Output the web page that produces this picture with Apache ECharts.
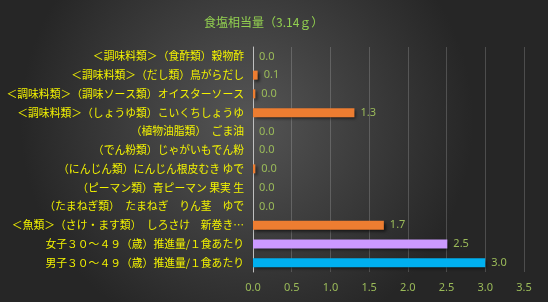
<!DOCTYPE html>
<html><head><meta charset="utf-8">
<script src="https://cdn.jsdelivr.net/npm/echarts@6/dist/echarts.min.js"></script>
<style>html,body{margin:0;padding:0;background:#2b2b2b}#c{width:548px;height:302px}</style>
</head><body><div id="c"></div>
<script>
const titleText = '食塩相当量（3.14ｇ）';
const categories = [
  '＜調味料類＞（食酢類）穀物酢',
  '＜調味料類＞（だし類）鳥がらだし',
  '＜調味料類＞（調味ソース類）オイスターソース',
  '＜調味料類＞（しょうゆ類）こいくちしょうゆ',
  '（植物油脂類）　ごま油',
  '（でん粉類）じゃがいもでん粉',
  '（にんじん類）にんじん根皮むき ゆで',
  '（ピーマン類）青ピーマン 果実 生',
  '（たまねぎ類）　たまねぎ　りん茎　ゆで',
  '＜魚類＞（さけ・ます類）　しろさけ　新巻き…',
  '女子３０～４９（歳）推進量/１食あたり',
  '男子３０～４９（歳）推進量/１食あたり'
];
const values = [0.0, 0.06, 0.03, 1.31, 0.0, 0.0, 0.03, 0.0, 0.0, 1.69, 2.51, 3.0];
const barColors = ['#ed7d31','#ed7d31','#ed7d31','#ed7d31','#ed7d31','#ed7d31','#ed7d31','#ed7d31','#ed7d31','#ed7d31','#cc99ff','#00b0f0'];

const chart = echarts.init(document.getElementById('c'), null, {renderer:'canvas'});
chart.setOption({
  backgroundColor: {
    type:'radial', x:0.45, y:0.4, r:0.75,
    colorStops:[{offset:0,color:'#555555'},{offset:1,color:'#262626'}]
  },
  animation:false,
  title:{text:titleText, left:199, top:11,
    textStyle:{color:'#92d050', fontSize:12, fontWeight:'normal', fontFamily:'Noto Sans CJK JP'}},
  grid:{left:253, right:24, top:47, bottom:30, containLabel:false},
  xAxis:{type:'value', min:0, max:3.5, interval:0.5,
    axisLine:{show:false}, axisTick:{show:false},
    axisLabel:{color:'#9bbb59', fontSize:11, margin:10, fontFamily:'Noto Sans', formatter:v=>v.toFixed(1)},
    splitLine:{show:true, lineStyle:{color:'rgba(255,255,255,0.18)', width:1}}
  },
  yAxis:{type:'category', data:categories, inverse:true,
    axisLine:{show:true, lineStyle:{color:'#bfbfbf', width:1}}, axisTick:{show:false},
    axisLabel:{color:'#f2f200', fontSize:10.8, margin:9, fontFamily:'Noto Sans CJK JP'}
  },
  series:[{
    type:'bar', barWidth:9,
    data: values.map((v,i)=>({value:v, itemStyle:{color:barColors[i]}})),
    itemStyle:{shadowColor:'rgba(0,0,0,0.6)', shadowBlur:3, shadowOffsetX:2, shadowOffsetY:2},
    label:{show:true, position:'right', distance:6, color:'#9bbb59', fontSize:11, fontFamily:'Noto Sans',
      formatter:p=>p.value.toFixed(1)}
  }]
});
</script></body></html>
